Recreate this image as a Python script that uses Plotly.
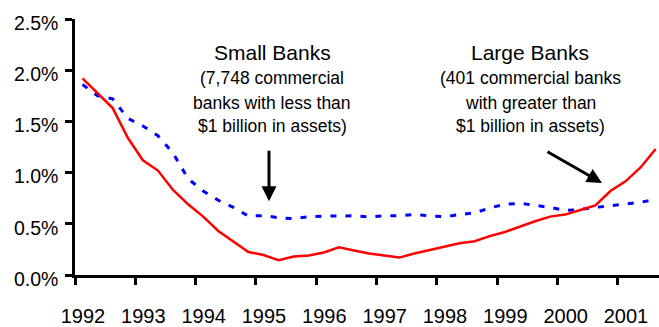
import plotly.graph_objects as go

quarters = [f"{y}Q{q}" for y in range(1992, 2002) for q in range(1, 5)][:39]

# Red line: large banks (%)
large_banks = [1.92, 1.77, 1.63, 1.34, 1.12, 1.02, 0.83, 0.69, 0.57, 0.43,
               0.325, 0.225, 0.195, 0.145, 0.18, 0.19, 0.22, 0.27, 0.24, 0.21,
               0.19, 0.17, 0.21, 0.245, 0.28, 0.31, 0.33, 0.38, 0.42, 0.475,
               0.525, 0.57, 0.59, 0.635, 0.68, 0.82, 0.915, 1.05, 1.23]
# Blue dashed line: small banks (%)
small_banks = [1.86, 1.75, 1.72, 1.53, 1.455, 1.36, 1.19, 0.94, 0.82, 0.73,
               0.66, 0.575, 0.58, 0.56, 0.55, 0.57, 0.575, 0.578, 0.578, 0.568,
               0.578, 0.58, 0.59, 0.578, 0.568, 0.59, 0.606, 0.655, 0.69, 0.70,
               0.68, 0.66, 0.63, 0.64, 0.66, 0.675, 0.69, 0.71, 0.74]

year_ticks = list(range(1992, 2002))
year_labels = [str(y) for y in year_ticks]
y_ticks = [0, 0.5, 1.0, 1.5, 2.0, 2.5]
y_labels = ["0.0%", "0.5%", "1.0%", "1.5%", "2.0%", "2.5%"]

x = [int(s[:4]) + (int(s[-1]) - 0.5) / 4 for s in quarters]

FONT = "Liberation Sans, Arial, sans-serif"

fig = go.Figure()
fig.add_trace(go.Scatter(x=x, y=small_banks, mode="lines",
                         line=dict(color="#0000FF", width=3, dash="6px,9px"),
                         showlegend=False))
fig.add_trace(go.Scatter(x=x, y=large_banks, mode="lines",
                         line=dict(color="#FF0000", width=2.5),
                         showlegend=False))

W, H = 659, 327
ml, mr, mt, mb = 75, 0, 19, 44
pw, ph = W - ml - mr, H - mt - mb
year_px = 60.33

def px(xp):
    return (xp - ml) / pw

def py(yp):
    return (H - mb - yp) / ph

anns = []
def text_line(t, cx, cy, size):
    anns.append(dict(text=t, xref="paper", yref="paper", x=px(cx), y=py(cy),
                     xanchor="center", yanchor="middle", showarrow=False,
                     font=dict(family=FONT, size=size, color="#000000")))

text_line("Small Banks", 272, 53.5, 21)
text_line("(7,748 commercial", 272, 80, 17.5)
text_line("banks with less than", 272, 105.5, 17.5)
text_line("$1 billion in assets)", 272, 129.5, 17.5)

text_line("Large Banks", 530, 53.5, 21)
text_line("(401 commercial banks", 530, 80, 17.5)
text_line("with greater than", 530, 105.5, 17.5)
text_line("$1 billion in assets)", 530, 129.5, 17.5)

def arrow(tipx, tipy, tailx, taily):
    anns.append(dict(text="", xref="paper", yref="paper", x=px(tipx), y=py(tipy),
                     ax=tailx - tipx, ay=taily - tipy, showarrow=True,
                     arrowhead=2, arrowsize=1, arrowwidth=3, arrowcolor="#000000",
                     standoff=0, startstandoff=0))

arrow(269, 207, 269, 155)
arrow(602, 188, 546, 156)

fig.update_layout(
    width=W, height=H,
    margin=dict(l=ml, r=mr, t=mt, b=mb, pad=0),
    paper_bgcolor="#FFFFFF", plot_bgcolor="#FFFFFF",
    font=dict(family=FONT, color="#000000", size=20),
    annotations=anns,
)
fig.update_xaxes(range=[1992, 1992 + pw / year_px], tickmode="array",
                 tickvals=year_ticks, ticktext=year_labels,
                 ticks="outside", ticklen=7, tickwidth=2.5, tickcolor="#000000",
                 ticklabelshift=8, ticklabelstandoff=14,
                 showline=True, linewidth=2.5, linecolor="#000000",
                 showgrid=False, zeroline=False,
                 tickfont_family=FONT, tickfont_size=20, tickfont_color="#000000")
fig.update_yaxes(range=[0, 2.5], tickmode="array", tickvals=y_ticks,
                 ticktext=y_labels,
                 ticks="outside", ticklen=7, tickwidth=2.5, tickcolor="#000000",
                 ticklabelstandoff=3, ticklabelshift=4,
                 showline=True, linewidth=2.5, linecolor="#000000",
                 showgrid=False, zeroline=False,
                 tickfont_family=FONT, tickfont_size=19.5, tickfont_color="#000000")

fig.write_html("out.html")
